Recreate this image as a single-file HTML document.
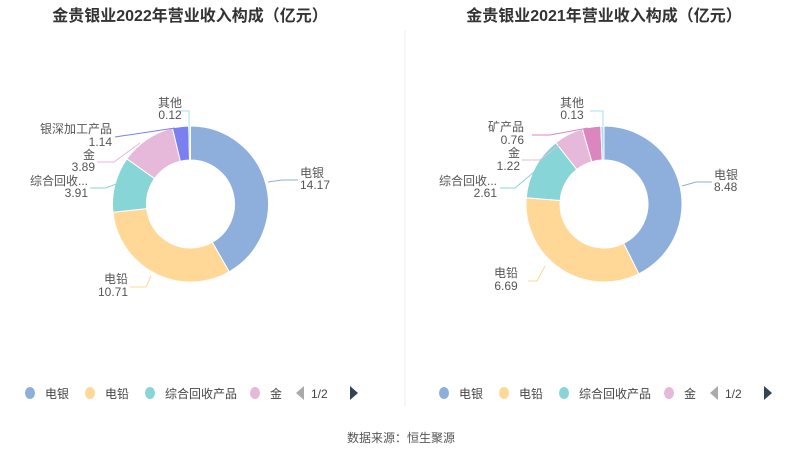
<!DOCTYPE html>
<html><head><meta charset="utf-8"><style>
body{margin:0;background:#fff;width:802px;height:459px;overflow:hidden;font-family:"Liberation Sans","Noto Sans CJK SC",sans-serif}
svg text{font-family:"Liberation Sans","Noto Sans CJK SC",sans-serif}
</style></head><body>
<svg id="s" width="802" height="459" xmlns="http://www.w3.org/2000/svg">
<text x="190" y="21" text-anchor="middle" font-size="16" font-weight="bold" fill="#333">金贵银业2022年营业收入构成（亿元）</text>
<text x="604" y="21" text-anchor="middle" font-size="16" font-weight="bold" fill="#333">金贵银业2021年营业收入构成（亿元）</text>
<line x1="405" y1="30" x2="405" y2="406" stroke="#eee"/>
<g id="g1"></g><g id="g2"></g>
<g font-size="12" fill="#555">
<polyline points="268,182 282,180 298,180" fill="none" stroke="#8eaedb"/>
<text x="300" y="177">电银</text><text x="300" y="189">14.17</text>
<polyline points="151,276 146,287 130,287" fill="none" stroke="#ffd898"/>
<text x="128" y="283" text-anchor="end">电铅</text><text x="128" y="296" text-anchor="end">10.71</text>
<polyline points="116,184 106,188 90,188" fill="none" stroke="#88d5d8"/>
<text x="88" y="185" text-anchor="end">综合回收...</text><text x="88" y="197" text-anchor="end">3.91</text>
<polyline points="140,143 114,162 97,162" fill="none" stroke="#e6b8d9"/>
<text x="95" y="159" text-anchor="end">金</text><text x="95" y="171" text-anchor="end">3.89</text>
<polyline points="175,128 115,137" fill="none" stroke="#7b7ff0"/>
<text x="112" y="133" text-anchor="end">银深加工产品</text><text x="112" y="146" text-anchor="end">1.14</text>
<polyline points="189,126 189,111 180,111" fill="none" stroke="#a8dff0"/>
<text x="170" y="107" text-anchor="middle">其他</text><text x="170" y="119" text-anchor="middle">0.12</text>
<polyline points="682,186 696,182 712,182" fill="none" stroke="#8eaedb"/>
<text x="714" y="179">电银</text><text x="714" y="191">8.48</text>
<polyline points="545,266 537,281 528,281" fill="none" stroke="#ffd898"/>
<text x="506" y="277" text-anchor="middle">电铅</text><text x="506" y="290" text-anchor="middle">6.69</text>
<polyline points="534,172 515,188 500,188" fill="none" stroke="#88d5d8"/>
<text x="497" y="185" text-anchor="end">综合回收...</text><text x="497" y="197" text-anchor="end">2.61</text>
<polyline points="566,140 540,160 522,160" fill="none" stroke="#e6b8d9"/>
<text x="520" y="157" text-anchor="end">金</text><text x="520" y="170" text-anchor="end">1.22</text>
<polyline points="588,128 550,135 532,135" fill="none" stroke="#dc86c0"/>
<text x="524" y="131" text-anchor="end">矿产品</text><text x="524" y="144" text-anchor="end">0.76</text>
<polyline points="603,126 603,111 590,111" fill="none" stroke="#a8dff0"/>
<text x="572" y="107" text-anchor="middle">其他</text><text x="572" y="119" text-anchor="middle">0.13</text>
</g>
<g font-size="12" fill="#444">
<ellipse cx="30" cy="393" rx="5" ry="6" fill="#8eaedb"/><text x="45" y="398">电银</text>
<ellipse cx="90" cy="393" rx="5" ry="6" fill="#ffd898"/><text x="105" y="398">电铅</text>
<ellipse cx="150" cy="393" rx="5" ry="6" fill="#88d5d8"/><text x="165" y="398">综合回收产品</text>
<ellipse cx="255" cy="393" rx="5" ry="6" fill="#e6b8d9"/><text x="270" y="398">金</text>
<polygon points="296,393 304,386 304,400" fill="#aaa"/><text x="311" y="398">1/2</text>
<polygon points="350,386 358,393 350,400" fill="#2f4554"/>
<ellipse cx="444" cy="393" rx="5" ry="6" fill="#8eaedb"/><text x="459" y="398">电银</text>
<ellipse cx="504" cy="393" rx="5" ry="6" fill="#ffd898"/><text x="519" y="398">电铅</text>
<ellipse cx="564" cy="393" rx="5" ry="6" fill="#88d5d8"/><text x="579" y="398">综合回收产品</text>
<ellipse cx="669" cy="393" rx="5" ry="6" fill="#e6b8d9"/><text x="684" y="398">金</text>
<polygon points="710,393 718,386 718,400" fill="#aaa"/><text x="725" y="398">1/2</text>
<polygon points="764,386 772,393 764,400" fill="#2f4554"/>
</g>
<text x="401" y="442" text-anchor="middle" font-size="12" fill="#555">数据来源：恒生聚源</text>
</svg>
<script>
function donut(id,cx,cy,R,r,vals,cols){
 var g=document.getElementById(id),t=vals.reduce((a,b)=>a+b,0),a=-Math.PI/2,h='';
 vals.forEach(function(v,i){
  var b=a+v/t*2*Math.PI,l=(b-a)>Math.PI?1:0;
  var p=(x,y)=>x.toFixed(2)+','+y.toFixed(2);
  h+='<path d="M'+p(cx+R*Math.cos(a),cy+R*Math.sin(a))+' A'+R+','+R+' 0 '+l+' 1 '+p(cx+R*Math.cos(b),cy+R*Math.sin(b))+' L'+p(cx+r*Math.cos(b),cy+r*Math.sin(b))+' A'+r+','+r+' 0 '+l+' 0 '+p(cx+r*Math.cos(a),cy+r*Math.sin(a))+'Z" fill="'+cols[i]+'" stroke="#fff" stroke-width="1"/>';
  a=b;});
 g.innerHTML=h;
}
donut('g1',190.5,204,78,44,[14.17,10.71,3.91,3.89,1.14,0.12],['#8eaedb','#ffd898','#88d5d8','#e6b8d9','#7b7ff0','#a8dff0']);
donut('g2',604,204,78,44,[8.48,6.69,2.61,1.22,0.76,0.13],['#8eaedb','#ffd898','#88d5d8','#e6b8d9','#dc86c0','#a8dff0']);
</script>
</body></html>
